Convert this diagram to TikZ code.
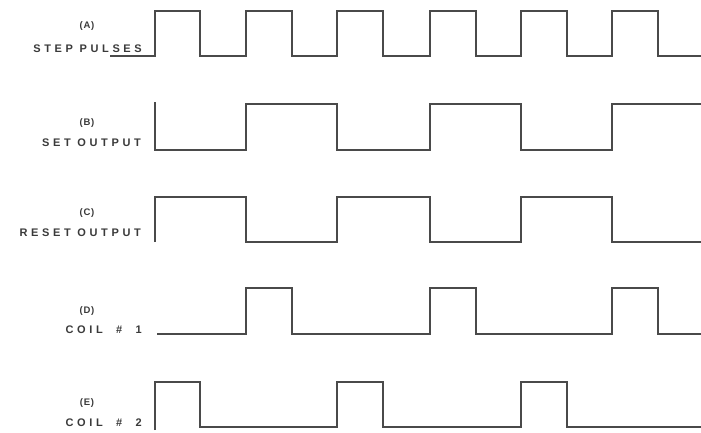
\documentclass[tikz,border=0pt]{standalone}
\usepackage{fontspec}
\newfontfamily\lblfont[LetterSpace=33]{Liberation Sans Bold}
\newfontfamily\tagfont[LetterSpace=8]{Liberation Sans Bold}
\definecolor{ink}{HTML}{4A4A4A}
\definecolor{txt}{HTML}{3A3A3A}
\begin{document}
\begin{tikzpicture}[x=1pt,y=-1pt,
  wave/.style={draw=ink,line width=1.25pt,line join=miter},
  rowlabel/.style={anchor=east,inner sep=0pt,text=txt,font=\lblfont\fontsize{11}{12}\selectfont},
  rowtag/.style={anchor=center,inner sep=0pt,text=txt,font=\tagfont\fontsize{9.5}{10}\selectfont}]
\useasboundingbox (0,0) rectangle (701,432);
\fill[white] (0,0) rectangle (701,432);
% labels
\node[rowtag] (ta) at (87,26) {(A)};
\node[rowlabel] (na) at (142,49) {STEP PULSES};
\node[rowtag] (tb) at (87,123) {(B)};
\node[rowlabel] (nb) at (141,143) {SET OUTPUT};
\node[rowtag] (tc) at (87,213) {(C)};
\node[rowlabel] (nc) at (141,233) {RESET OUTPUT};
\node[rowtag] (td) at (87,311) {(D)};
\node[rowlabel] (nd) at (142,330) {COIL\ \ \#\ \ 1};
\node[rowtag] (te) at (87,403) {(E)};
\node[rowlabel] (ne) at (142,423) {COIL\ \ \#\ \ 2};
% (A) step pulses
\draw[wave] (110,56) -- (155,56) -- (155,11) -- (200,11) -- (200,56)
  -- (246,56) -- (246,11) -- (292,11) -- (292,56)
  -- (337,56) -- (337,11) -- (383,11) -- (383,56)
  -- (430,56) -- (430,11) -- (476,11) -- (476,56)
  -- (521,56) -- (521,11) -- (567,11) -- (567,56)
  -- (612,56) -- (612,11) -- (658,11) -- (658,56) -- (701,56);
% (B) set output
\draw[wave] (155,102) -- (155,150) -- (246,150) -- (246,104) -- (337,104)
  -- (337,150) -- (430,150) -- (430,104) -- (521,104) -- (521,150)
  -- (612,150) -- (612,104) -- (701,104);
% (C) reset output
\draw[wave] (155,242) -- (155,197) -- (246,197) -- (246,242) -- (337,242)
  -- (337,197) -- (430,197) -- (430,242) -- (521,242) -- (521,197)
  -- (612,197) -- (612,242) -- (701,242);
% (D) coil 1
\draw[wave] (157,334) -- (246,334) -- (246,288) -- (292,288) -- (292,334)
  -- (430,334) -- (430,288) -- (476,288) -- (476,334)
  -- (612,334) -- (612,288) -- (658,288) -- (658,334) -- (701,334);
% (E) coil 2
\draw[wave] (155,430) -- (155,382) -- (200,382) -- (200,427) -- (337,427)
  -- (337,382) -- (383,382) -- (383,427) -- (521,427) -- (521,382)
  -- (567,382) -- (567,427) -- (701,427);
\end{tikzpicture}
\end{document}
